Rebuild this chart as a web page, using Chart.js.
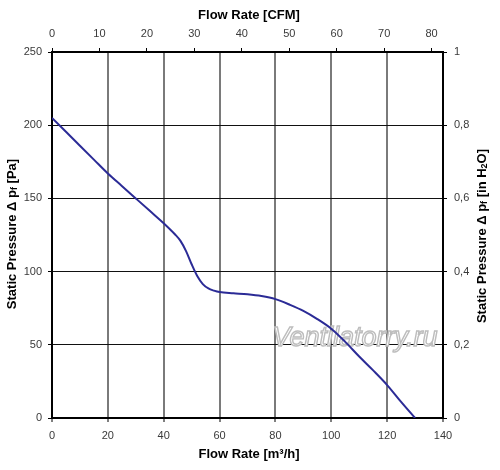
<!DOCTYPE html>
<html>
<head>
<meta charset="utf-8">
<script src="https://cdn.jsdelivr.net/npm/chart.js@4/dist/chart.umd.min.js"></script>
<style>
  html, body { margin: 0; padding: 0; background: #fff; }
  #wrap { width: 500px; height: 470px; position: relative; }
</style>
</head>
<body>
<div id="wrap"><canvas id="fanChart"></canvas></div>
<script>
// Fan curve
const flowM3h = [0, 5, 10, 15, 20, 25, 30, 35, 40, 44, 46, 48, 50, 52, 54, 56, 58, 60, 65, 70, 75, 80, 85, 90, 95, 100, 105, 110, 115, 120, 125, 130];
const pressurePa = [205, 195.5, 186, 176.5, 167, 158.5, 150, 141.5, 133, 125.5, 121, 114, 105, 97, 91.5, 88.5, 87, 86, 85.2, 84.5, 83.3, 81.2, 77.5, 73.2, 67.6, 61, 52, 42, 32.5, 22.5, 11, 0];

// axis ranges
const flowMax = 140;
const pressureMax = 250;
const m3hPerCfm = 1.699;
const paPerInH2O = 250;

const FONT = "'Liberation Sans', Arial, sans-serif";
const TICK_COLOR = "#3a3a3a";

const titlePlugin = {
  id: "titlePlugin",
  afterDraw(chart) {
    const { ctx } = chart;
    ctx.save();
    ctx.fillStyle = "#000";
    ctx.textBaseline = "middle";
    ctx.textAlign = "center";
    ctx.font = "bold 13px " + FONT;
    ctx.fillText("Flow Rate [CFM]", 249, 15);
    ctx.fillText("Flow Rate [m³/h]", 249, 454);

    // rotated titles with subscripts
    const drawRich = (parts, cx, cy) => {
      ctx.save();
      ctx.translate(cx, cy);
      ctx.rotate(-Math.PI / 2);
      ctx.textAlign = "left";
      let total = 0;
      parts.forEach((p) => {
        ctx.font = (p.sub ? "bold 9px " : "bold 13px ") + FONT;
        total += ctx.measureText(p.t).width;
      });
      let x = -total / 2;
      parts.forEach((p) => {
        ctx.font = (p.sub ? "bold 9px " : "bold 13px ") + FONT;
        ctx.fillText(p.t, x, p.sub ? 3 : 0);
        x += ctx.measureText(p.t).width;
      });
      ctx.restore();
    };
    drawRich(
      [{ t: "Static Pressure Δ p" }, { t: "f", sub: true }, { t: " [Pa]" }],
      12, 234
    );
    drawRich(
      [
        { t: "Static Pressure Δ p" },
        { t: "f", sub: true },
        { t: " [in H" },
        { t: "2", sub: true },
        { t: "O]" },
      ],
      482, 236
    );
    ctx.restore();
  },
};

const watermarkPlugin = {
  id: "watermark",
  beforeDatasetsDraw(chart) {
    const { ctx } = chart;
    ctx.save();
    ctx.font = "italic 27px " + FONT;
    ctx.textAlign = "center";
    ctx.textBaseline = "alphabetic";
    ctx.fillStyle = "#fff";
    ctx.strokeStyle = "#bdbdbd";
    ctx.lineWidth = 1.4;
    ctx.fillText("Ventilatorry.ru", 355, 346);
    ctx.strokeText("Ventilatorry.ru", 355, 346);
    ctx.restore();
  },
};

new Chart(document.getElementById("fanChart"), {
  type: "line",
  data: {
    datasets: [
      {
        label: "Fan curve",
        data: flowM3h.map((f, i) => ({ x: f, y: pressurePa[i] })),
        borderColor: "#2b2b96",
        borderWidth: 2,
        pointRadius: 0,
        cubicInterpolationMode: "monotone",
        xAxisID: "x",
        yAxisID: "y",
      },
    ],
  },
  options: {
    responsive: true,
    maintainAspectRatio: false,
    animation: false,
    layout: { padding: 0 },
    scales: {
      x: {
        type: "linear",
        position: "bottom",
        min: 0,
        max: flowMax,
        ticks: { stepSize: 20, color: TICK_COLOR, font: { family: FONT, size: 11 }, padding: 7, maxRotation: 0 },
        grid: {
          color: (c) => (c.tick.value === 0 || c.tick.value === flowMax ? "rgba(0,0,0,0)" : "#7a7a7a"),
          lineWidth: 2,
          tickColor: "#000",
          tickLength: 4,
          tickWidth: 1,
        },
        border: { display: true, color: "#000", width: 2 },
        afterFit: (s) => { s.height = 52; },
      },
      x2: {
        type: "linear",
        position: "top",
        min: 0,
        max: flowMax / m3hPerCfm,
        ticks: { stepSize: 10, includeBounds: false, color: TICK_COLOR, font: { family: FONT, size: 11 }, padding: 7, maxRotation: 0 },
        grid: { drawOnChartArea: false, color: "#000", tickLength: 4, tickWidth: 1 },
        border: { display: true, color: "#000", width: 2 },
        afterFit: (s) => { s.height = 52; },
      },
      y: {
        type: "linear",
        position: "left",
        min: 0,
        max: pressureMax,
        ticks: { stepSize: 50, color: TICK_COLOR, font: { family: FONT, size: 11 }, padding: 6 },
        grid: {
          color: (c) => (c.tick.value === 0 || c.tick.value === pressureMax ? "rgba(0,0,0,0)" : "#111"),
          lineWidth: 1,
          tickColor: "#000",
          tickLength: 4,
        },
        border: { display: true, color: "#000", width: 2 },
        afterFit: (s) => { s.width = 52; },
      },
      y2: {
        type: "linear",
        position: "right",
        min: 0,
        max: pressureMax / paPerInH2O,
        ticks: {
          stepSize: 0.2,
          color: TICK_COLOR,
          font: { family: FONT, size: 11 },
          padding: 7,
          callback: (v) => String(Math.round(v * 10) / 10).replace(".", ","),
        },
        grid: { drawOnChartArea: false, color: "#000", tickLength: 4 },
        border: { display: true, color: "#000", width: 2 },
        afterFit: (s) => { s.width = 57; },
      },
    },
    plugins: { legend: { display: false }, tooltip: { enabled: false } },
  },
  plugins: [watermarkPlugin, titlePlugin],
});
</script>
</body>
</html>
